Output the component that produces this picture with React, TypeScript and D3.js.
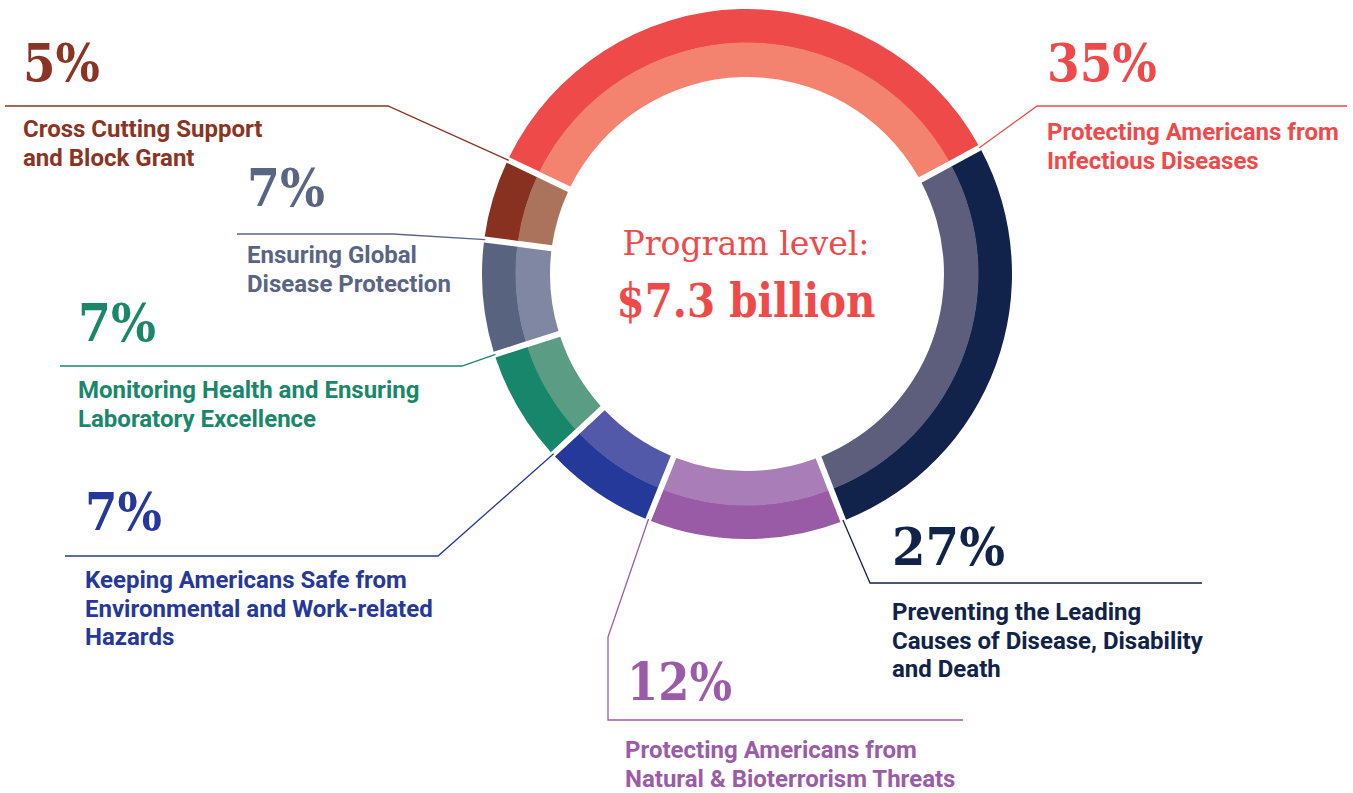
import React from "react";
import * as d3 from "d3";

// ---- data ----
const categories = [
  "Protecting Americans from Infectious Diseases",
  "Preventing the Leading Causes of Disease, Disability and Death",
  "Protecting Americans from Natural & Bioterrorism Threats",
  "Keeping Americans Safe from Environmental and Work-related Hazards",
  "Monitoring Health and Ensuring Laboratory Excellence",
  "Ensuring Global Disease Protection",
  "Cross Cutting Support and Block Grant",
];
const shares = [35, 27, 12, 7, 7, 7, 5];
const pctLabels = ["35%", "27%", "12%", "7%", "7%", "7%", "5%"];
const labelLines = [
  ["Protecting Americans from", "Infectious Diseases"],
  ["Preventing the Leading", "Causes of Disease, Disability", "and Death"],
  ["Protecting Americans from", "Natural & Bioterrorism Threats"],
  ["Keeping Americans Safe from", "Environmental and Work-related", "Hazards"],
  ["Monitoring Health and Ensuring", "Laboratory Excellence"],
  ["Ensuring Global", "Disease Protection"],
  ["Cross Cutting Support", "and Block Grant"],
];
const centerTitle = "Program level:";
const centerValue = "$7.3 billion";

// ---- styles ----
const outerColors = ["#EE4A4A", "#11234A", "#995BA6", "#25399A", "#18866A", "#58637F", "#883121"];
const innerColors = ["#F3826F", "#5C5E7C", "#A97DB8", "#5259A8", "#5B9C84", "#7F87A2", "#AC735C"];
const textColors = ["#EE4A4A", "#12234A", "#9B5CA7", "#26399A", "#1A876B", "#5A6584", "#8B3424"];

// ---- layout ----
const W = 1353, H = 793;
const cx = 747, cy = 274;
const R = 265, RM = 231, RI = 197;
const startDeg = -64.5;

type Lay = {
  elbow: [number, number];
  drop?: number;
  endX: number;
  pctX: number; pctY: number; pctW: number;
  textX: number; textY: number;
};
const layout: Lay[] = [
  { elbow: [1037, 106], endX: 1347, pctX: 1047, pctY: 81, pctW: 110, textX: 1047, textY: 140 },
  { elbow: [870, 583], endX: 1202, pctX: 892, pctY: 565, pctW: 113, textX: 892, textY: 620 },
  { elbow: [608, 637], drop: 720, endX: 963, pctX: 627, pctY: 700, pctW: 105, textX: 625, textY: 758 },
  { elbow: [438, 556], endX: 65, pctX: 85, pctY: 530, pctW: 77, textX: 85, textY: 588 },
  { elbow: [462, 366], endX: 60, pctX: 78, pctY: 341, pctW: 78, textX: 78, textY: 398 },
  { elbow: [393, 234], endX: 237, pctX: 247, pctY: 206, pctW: 78, textX: 247, textY: 263 },
  { elbow: [388, 106], endX: 5, pctX: 23, pctY: 81, pctW: 77, textX: 23, textY: 137 },
];

export default function App() {
  const start = (startDeg * Math.PI) / 180;
  const pie = d3
    .pie<number>()
    .sort(null)
    .value((d) => d)
    .startAngle(start)
    .endAngle(start + 2 * Math.PI);
  const arcs = pie(shares);
  const padR = R;
  const padA = 6 / padR;
  const outerArc = d3.arc<d3.PieArcDatum<number>>().innerRadius(RM).outerRadius(R).padRadius(padR).padAngle(padA);
  const innerArc = d3.arc<d3.PieArcDatum<number>>().innerRadius(RI).outerRadius(RM + 0.5).padRadius(padR).padAngle(padA);
  const line = d3.line();

  return (
    <svg width={W} height={H} style={{ position: "absolute", left: 0, top: 0, background: "#fff" }}>
      <g>
        {arcs.map((a, i) => {
          const ang = a.endAngle;
          const ax = cx + (R - 1) * Math.sin(ang);
          const ay = cy - (R - 1) * Math.cos(ang);
          const L = layout[i];
          const pts: [number, number][] = [[ax, ay], L.elbow];
          if (L.drop !== undefined) pts.push([L.elbow[0], L.drop]);
          const lastY = L.drop !== undefined ? L.drop : L.elbow[1];
          pts.push([L.endX, lastY]);
          return (
            <path key={"l" + i} d={line(pts) || ""} fill="none" stroke={textColors[i]} strokeWidth={1.3} />
          );
        })}
      </g>
      <g transform={`translate(${cx},${cy})`}>
        {arcs.map((a, i) => (
          <g key={"a" + i}>
            <path d={outerArc(a) || ""} fill={outerColors[i]} />
            <path d={innerArc(a) || ""} fill={innerColors[i]} />
          </g>
        ))}
      </g>
      <g>
        {arcs.map((a, i) => {
          const L = layout[i];
          return (
            <g key={"t" + i}>
              <text
                x={L.pctX}
                y={L.pctY}
                fill={textColors[i]}
                fontFamily="'DejaVu Serif', serif"
                fontWeight={700}
                fontSize={52}
                textLength={L.pctW}
                lengthAdjust="spacingAndGlyphs"
              >
                {pctLabels[i]}
              </text>
              {labelLines[i].map((t, j) => (
                <text
                  key={j}
                  x={L.textX}
                  y={L.textY + j * 28.5}
                  fill={textColors[i]}
                  fontFamily="Roboto, sans-serif"
                  fontWeight={700}
                  fontSize={24}
                >
                  {t}
                </text>
              ))}
            </g>
          );
        })}
      </g>
      <text
        x={746}
        y={255}
        textAnchor="middle"
        fill="#EE4A4A"
        fontFamily="'DejaVu Serif', serif"
        fontWeight={400}
        fontSize={33}
        textLength={247}
        lengthAdjust="spacingAndGlyphs"
      >
        {centerTitle}
      </text>
      <text
        x={746}
        y={317}
        textAnchor="middle"
        fill="#EE4A4A"
        fontFamily="'DejaVu Serif', serif"
        fontWeight={700}
        fontSize={47}
        textLength={259}
        lengthAdjust="spacingAndGlyphs"
      >
        {centerValue}
      </text>
    </svg>
  );
}
